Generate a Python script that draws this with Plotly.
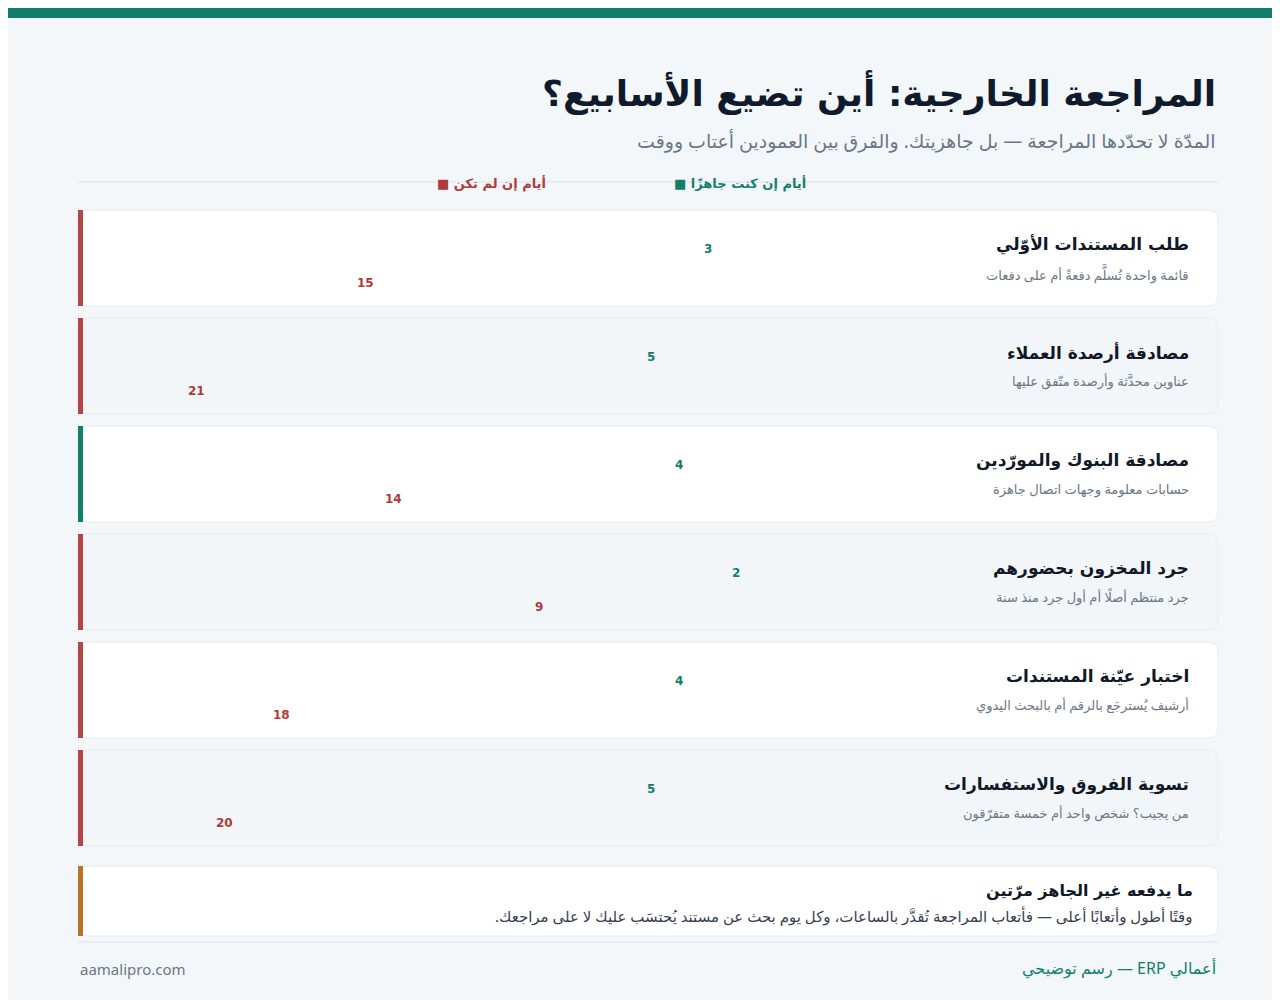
import plotly.graph_objects as go

steps = ["طلب المستندات الأوّلي", "مصادقة أرصدة العملاء", "مصادقة البنوك والمورّدين",
         "جرد المخزون بحضورهم", "اختبار عيّنة المستندات", "تسوية الفروق والاستفسارات"]
notes = ["قائمة واحدة تُسلَّم دفعةً أم على دفعات", "عناوين محدَّثة وأرصدة متّفق عليها",
         "حسابات معلومة وجهات اتصال جاهزة", "جرد منتظم أصلًا أم أول جرد منذ سنة",
         "أرشيف يُسترجَع بالرقم أم بالبحث اليدوي", "من يجيب؟ شخص واحد أم خمسة متفرّقون"]
ready_days = [3, 5, 4, 2, 4, 5]
unready_days = [15, 21, 14, 9, 18, 20]

GREEN = "#268a77"
GREEN_T = "#11806a"
RED = "#b34545"
RED_T = "#b03a3a"
GRAY = "#6b7785"
DARK = "#111827"

W, H = 1280, 1000
PX_PER_DAY = 28.13
fig = go.Figure()

card_top = [202 + 108 * i for i in range(len(steps))]
y_ready = [t + 39 for t in card_top]
y_unready = [t + 73 for t in card_top]

fig.add_trace(go.Bar(x=ready_days, y=y_ready, orientation="h", width=26,
                     marker=dict(color=GREEN, cornerradius=13), showlegend=False,
                     hoverinfo="skip"))
fig.add_trace(go.Bar(x=unready_days, y=y_unready, orientation="h", width=26,
                     marker=dict(color=RED, cornerradius=13), showlegend=False,
                     hoverinfo="skip"))


def rrect(x0, y0, x1, y1, r):
    return (f"M{x0+r},{y0} L{x1-r},{y0} Q{x1},{y0} {x1},{y0+r} L{x1},{y1-r} "
            f"Q{x1},{y1} {x1-r},{y1} L{x0+r},{y1} Q{x0},{y1} {x0},{y1-r} "
            f"L{x0},{y0+r} Q{x0},{y0} {x0+r},{y0} Z")


shapes = [dict(type="rect", xref="x2", yref="y", x0=0, x1=W, y0=0, y1=10,
               fillcolor=GREEN_T, line_width=0, layer="below"),
          dict(type="line", xref="x2", yref="y", x0=70, x1=1210, y0=174, y1=174,
               line=dict(color="#e2e8ee", width=1.5), layer="below"),
          dict(type="line", xref="x2", yref="y", x0=70, x1=1210, y0=934, y1=934,
               line=dict(color="#e2e8ee", width=1.5), layer="below")]
ann = []
for i, t in enumerate(card_top):
    fill = "white" if i % 2 == 0 else "#f3f6f9"
    shapes.append(dict(type="path", xref="x2", yref="y", path=rrect(70, t, 1210, t + 96, 10),
                       fillcolor=fill, line=dict(color="#e6ebf0", width=1), layer="below"))
    shapes.append(dict(type="rect", xref="x2", yref="y", x0=70, x1=75, y0=t, y1=t + 96,
                       fillcolor=GREEN_T if i == 2 else RED, line_width=0, layer="below"))
    ann.append(dict(xref="x2", yref="y", x=1183, y=t + 34, text="<b>" + steps[i] + "</b>",
                    xanchor="right", showarrow=False,
                    font=dict(size=17, color=DARK, family="DejaVu Sans")))
    ann.append(dict(xref="x2", yref="y", x=1183, y=t + 63, text=notes[i], xanchor="right",
                    showarrow=False, font=dict(size=13, color=GRAY, family="Noto Sans, DejaVu Sans")))
    ann.append(dict(xref="x", yref="y", x=ready_days[i], y=y_ready[i], xshift=-10,
                    text=f"<b>{ready_days[i]}</b>", xanchor="right", showarrow=False,
                    font=dict(size=12, color=GREEN_T, family="DejaVu Sans")))
    ann.append(dict(xref="x", yref="y", x=unready_days[i], y=y_unready[i], xshift=-10,
                    text=f"<b>{unready_days[i]}</b>", xanchor="right", showarrow=False,
                    font=dict(size=12, color=RED_T, family="DejaVu Sans")))

# callout
shapes.append(dict(type="path", xref="x2", yref="y", path=rrect(70, 858, 1210, 928, 10),
                   fillcolor="white", line=dict(color="#e6ebf0", width=1), layer="below"))
shapes.append(dict(type="rect", xref="x2", yref="y", x0=70, x1=75, y0=858, y1=928,
                   fillcolor="#b87425", line_width=0, layer="below"))

ann += [
    dict(xref="x2", yref="y", x=1210, y=84, text="<b>المراجعة الخارجية: أين تضيع الأسابيع؟</b>",
         xanchor="right", showarrow=False, font=dict(size=36, color="#0f1b2d", family="DejaVu Sans")),
    dict(xref="x2", yref="y", x=1210, y=133,
         text="المدّة لا تحدّدها المراجعة — بل جاهزيتك. والفرق بين العمودين أعتاب ووقت",
         xanchor="right", showarrow=False, font=dict(size=19, color=GRAY, family="Noto Sans, DejaVu Sans")),
    dict(xref="x2", yref="y", x=800, y=175, text="<b>■ أيام إن كنت جاهزًا</b>", xanchor="right",
         showarrow=False, font=dict(size=13, color=GREEN_T, family="DejaVu Sans")),
    dict(xref="x2", yref="y", x=540, y=175, text="<b>■ أيام إن لم تكن</b>", xanchor="right",
         showarrow=False, font=dict(size=13, color=RED_T, family="DejaVu Sans")),
    dict(xref="x2", yref="y", x=1187, y=882, text="<b>ما يدفعه غير الجاهز مرّتين</b>", xanchor="right",
         showarrow=False, font=dict(size=16, color=DARK, family="DejaVu Sans")),
    dict(xref="x2", yref="y", x=1187, y=908,
         text="وقتًا أطول وأتعابًا أعلى — فأتعاب المراجعة تُقدَّر بالساعات، وكل يوم بحث عن مستند يُحتسَب عليك لا على مراجعك.\u200F",
         xanchor="right", showarrow=False, font=dict(size=15, color="#374151", family="Noto Sans, DejaVu Sans")),
    dict(xref="x2", yref="y", x=70, y=961, text="aamalipro.com", xanchor="left", showarrow=False,
         font=dict(size=15, color=GRAY, family="Noto Sans, DejaVu Sans")),
    dict(xref="x2", yref="y", x=1210, y=960, text="رسم توضيحي — ERP أعمالي", xanchor="right",
         showarrow=False, font=dict(size=16, color=GREEN_T, family="Noto Sans, DejaVu Sans")),
]

fig.update_layout(
    width=W, height=H, margin=dict(l=0, r=0, t=0, b=0),
    paper_bgcolor="#f4f7fa", plot_bgcolor="rgba(0,0,0,0)",
    xaxis=dict(domain=[70 / W, 800 / W], range=[730 / PX_PER_DAY, 0], visible=False, fixedrange=True),
    xaxis2=dict(domain=[0, 1], range=[0, W], anchor="y", visible=False),
    yaxis=dict(domain=[0, 1], range=[H, 0], visible=False),
    shapes=shapes, annotations=ann, bargap=0,
)

fig.write_html("out.html")
